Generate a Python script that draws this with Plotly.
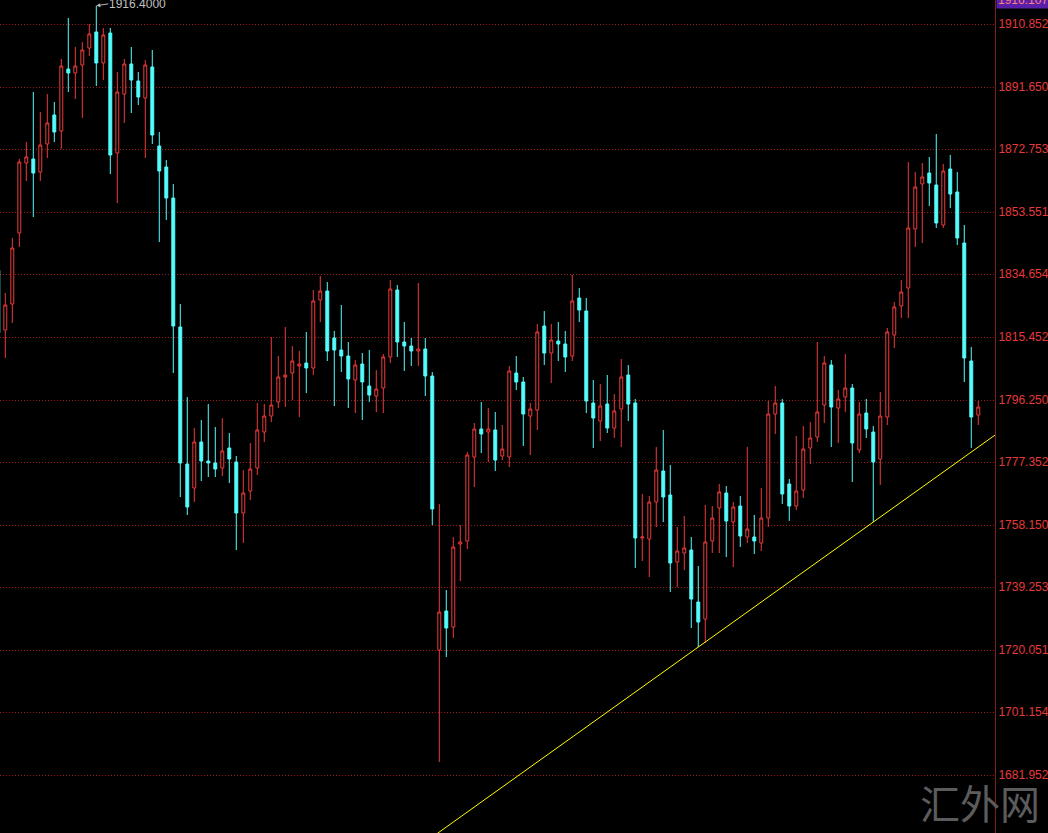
import plotly.graph_objects as go

# ---- data ----
idx = list(range(-1, 140))

opens = [1835.87, 1817.59, 1825.51, 1847.15, 1868.49, 1869.71, 1865.74, 1874.28, 1883.12, 1878.24,
         1897.14, 1895.92, 1898.36, 1903.54, 1908.42, 1898.97, 1908.11, 1871.54, 1889.52, 1898.66,
         1893.48, 1888.30, 1897.75, 1873.67, 1867.27, 1857.82, 1818.50, 1776.74, 1769.43, 1783.45,
         1777.66, 1777.05, 1775.52, 1781.62, 1777.35, 1761.81, 1768.51, 1775.52, 1786.50, 1791.37,
         1795.64, 1803.26, 1804.48, 1806.61, 1807.53, 1806.00, 1826.73, 1829.47, 1815.15, 1811.49,
         1809.66, 1802.35, 1807.22, 1800.52, 1797.47, 1799.91, 1809.36, 1829.78, 1813.93, 1812.71,
         1811.19, 1811.79, 1803.57, 1720.05, 1731.94, 1727.06, 1752.36, 1753.27, 1778.88, 1787.41,
         1786.50, 1787.11, 1779.18, 1778.88, 1804.48, 1801.74, 1791.37, 1793.20, 1818.81, 1810.58,
         1814.23, 1813.32, 1809.66, 1827.34, 1823.38, 1795.34, 1789.85, 1795.03, 1787.72, 1793.51,
         1803.87, 1795.34, 1754.19, 1753.88, 1765.16, 1774.61, 1767.29, 1746.87, 1749.62, 1750.53,
         1734.68, 1729.50, 1753.27, 1763.33, 1767.90, 1759.06, 1763.94, 1754.49, 1754.49, 1752.66,
         1760.28, 1791.98, 1795.34, 1770.65, 1763.94, 1768.82, 1781.62, 1784.97, 1794.73, 1806.92,
         1793.81, 1797.16, 1799.91, 1781.01, 1792.29, 1786.50, 1778.27, 1791.07, 1816.06, 1824.90,
         1830.39, 1848.37, 1862.09, 1865.44, 1861.78, 1849.59, 1866.66, 1859.65, 1844.10, 1808.14,
         1791.68]

highs = [1837.40, 1828.86, 1845.63, 1869.71, 1874.89, 1890.13, 1884.03, 1889.52, 1887.08, 1900.19,
         1912.68, 1903.84, 1905.37, 1910.85, 1916.40, 1909.64, 1909.64, 1896.22, 1900.19, 1903.84,
         1896.22, 1899.88, 1902.93, 1877.94, 1869.40, 1862.09, 1825.51, 1797.16, 1787.72, 1790.15,
         1795.03, 1788.02, 1790.76, 1786.19, 1779.18, 1774.91, 1783.14, 1795.34, 1795.03, 1815.45,
         1809.66, 1818.50, 1812.71, 1811.19, 1816.98, 1829.78, 1834.05, 1832.22, 1817.28, 1825.21,
         1813.93, 1808.44, 1810.58, 1811.49, 1805.39, 1810.27, 1832.83, 1831.30, 1820.02, 1815.15,
         1831.91, 1815.15, 1804.78, 1764.55, 1738.34, 1754.49, 1758.15, 1780.40, 1789.24, 1795.64,
         1793.81, 1792.59, 1788.63, 1806.61, 1809.66, 1803.26, 1795.34, 1819.41, 1823.38, 1819.41,
         1820.02, 1817.28, 1834.35, 1830.39, 1827.34, 1802.35, 1801.13, 1803.87, 1798.08, 1808.75,
         1806.92, 1796.55, 1767.60, 1766.99, 1781.92, 1787.11, 1776.44, 1757.54, 1760.89, 1754.49,
         1745.65, 1764.25, 1763.94, 1770.65, 1770.04, 1765.16, 1766.99, 1781.92, 1761.20, 1769.43,
         1795.95, 1800.52, 1796.55, 1772.17, 1785.28, 1788.33, 1789.54, 1813.93, 1809.66, 1808.44,
         1799.30, 1810.27, 1801.13, 1795.64, 1796.55, 1788.33, 1798.69, 1818.20, 1826.12, 1832.83,
         1868.79, 1865.74, 1868.49, 1870.32, 1877.33, 1868.18, 1870.93, 1865.74, 1849.59, 1812.40,
         1795.95]

lows = [1814.54, 1809.05, 1819.72, 1842.88, 1863.00, 1852.03, 1863.00, 1870.01, 1874.89, 1872.75,
        1890.13, 1887.99, 1882.20, 1901.10, 1891.96, 1893.79, 1865.13, 1856.30, 1880.68, 1883.73,
        1886.17, 1870.01, 1874.28, 1844.41, 1851.11, 1804.48, 1766.68, 1761.20, 1765.16, 1771.56,
        1772.78, 1772.78, 1773.09, 1770.95, 1750.53, 1752.66, 1765.77, 1773.39, 1783.45, 1789.54,
        1793.81, 1794.12, 1796.25, 1791.07, 1798.38, 1803.87, 1820.02, 1808.14, 1794.42, 1804.78,
        1793.81, 1792.29, 1790.15, 1795.64, 1792.59, 1792.29, 1807.53, 1809.36, 1805.09, 1806.61,
        1806.61, 1797.47, 1758.15, 1685.91, 1717.92, 1723.71, 1741.08, 1750.83, 1769.73, 1780.10,
        1777.35, 1774.61, 1777.96, 1775.83, 1799.30, 1782.23, 1779.49, 1787.11, 1806.92, 1801.43,
        1808.14, 1804.78, 1808.14, 1820.02, 1792.29, 1781.62, 1783.75, 1786.19, 1784.67, 1781.92,
        1789.85, 1745.04, 1747.18, 1742.30, 1757.54, 1759.06, 1737.73, 1739.25, 1744.43, 1726.76,
        1720.96, 1722.20, 1749.62, 1749.62, 1748.40, 1745.35, 1751.44, 1752.66, 1749.31, 1750.23,
        1757.54, 1785.89, 1764.55, 1759.37, 1762.72, 1766.38, 1776.74, 1783.45, 1789.24, 1781.92,
        1783.14, 1792.59, 1771.26, 1780.10, 1784.67, 1759.06, 1770.34, 1788.63, 1812.10, 1821.24,
        1821.24, 1842.88, 1844.10, 1855.38, 1848.68, 1848.68, 1854.77, 1843.49, 1801.74, 1781.62,
        1788.63]

closes = [1816.67, 1825.21, 1842.58, 1868.79, 1870.32, 1865.44, 1873.97, 1880.68, 1877.94, 1898.05,
          1895.92, 1898.05, 1902.93, 1907.81, 1898.97, 1907.50, 1870.93, 1890.13, 1898.66, 1893.79,
          1888.60, 1898.36, 1877.02, 1866.05, 1857.82, 1818.81, 1777.05, 1763.64, 1783.45, 1777.66,
          1777.05, 1775.22, 1780.71, 1778.27, 1761.81, 1767.90, 1775.22, 1787.11, 1791.37, 1794.73,
          1803.26, 1803.87, 1808.14, 1807.22, 1806.00, 1826.43, 1829.47, 1811.19, 1811.49, 1809.66,
          1802.65, 1806.92, 1801.74, 1797.77, 1799.60, 1809.36, 1830.08, 1813.93, 1812.71, 1811.19,
          1811.79, 1803.57, 1763.03, 1731.63, 1726.76, 1751.44, 1752.97, 1779.49, 1787.41, 1785.89,
          1787.41, 1777.96, 1781.31, 1805.09, 1801.74, 1791.98, 1793.51, 1816.98, 1810.58, 1814.54,
          1813.32, 1809.36, 1826.43, 1823.68, 1795.95, 1790.76, 1794.42, 1787.72, 1792.90, 1803.26,
          1795.03, 1754.19, 1754.49, 1765.16, 1774.91, 1766.68, 1746.57, 1750.23, 1751.14, 1735.59,
          1728.58, 1752.97, 1760.28, 1768.21, 1759.37, 1763.64, 1754.80, 1756.93, 1753.27, 1760.28,
          1791.98, 1795.34, 1767.60, 1763.94, 1768.51, 1781.31, 1784.67, 1792.59, 1807.53, 1794.12,
          1796.55, 1799.91, 1783.14, 1791.98, 1787.41, 1777.35, 1791.37, 1816.98, 1824.60, 1829.17,
          1848.68, 1861.17, 1864.22, 1862.39, 1850.20, 1866.05, 1859.04, 1845.63, 1809.05, 1791.07,
          1794.12]

tick_vals = [1910.852, 1891.650, 1872.753, 1853.551, 1834.654, 1815.452, 1796.250,
             1777.352, 1758.150, 1739.253, 1720.051, 1701.154, 1681.952]
tick_text = ["1910.852", "1891.650", "1872.753", "1853.551", "1834.654", "1815.452", "1796.250",
             "1777.352", "1758.150", "1739.253", "1720.051", "1701.154", "1681.952"]

peak_label = "1916.4000"
peak_index = 13
top_label = "1916.107"
trend_anchor_idx = [99, 124]   # trendline drawn through the lows of these candles
watermark = "汇外网"

# ---- figure ----
RED = "#ec3b3b"
CYAN = "#54fcfc"

fig = go.Figure()
fig.add_trace(go.Candlestick(
    x=idx, open=opens, high=highs, low=lows, close=closes,
    increasing=dict(line=dict(color=RED, width=1), fillcolor="#000000"),
    decreasing=dict(line=dict(color=CYAN, width=1), fillcolor=CYAN),
    whiskerwidth=0, hoverinfo="skip", showlegend=False,
))

x_range = [-0.757, 141.39]
y_range = [1664.28, 1918.17]

# trendline through two lows, extended across the plot
i0, i1 = trend_anchor_idx
p0 = lows[idx.index(i0)]
p1 = lows[idx.index(i1)]
slope = (p1 - p0) / (i1 - i0)
tx = [x_range[0], x_range[1]]
ty = [p0 + slope * (v - i0) for v in tx]
fig.add_trace(go.Scatter(x=tx, y=ty, mode="lines",
                         line=dict(color="#ffff00", width=1),
                         hoverinfo="skip", showlegend=False))

fig.update_layout(
    width=1048, height=833,
    margin=dict(l=0, r=53, t=0, b=0, autoexpand=False),
    paper_bgcolor="#000000", plot_bgcolor="#000000",
    boxgap=0.4,
    showlegend=False,
    xaxis=dict(range=x_range, visible=False, showgrid=False, zeroline=False,
               rangeslider=dict(visible=False), fixedrange=True, automargin=False),
    yaxis=dict(range=y_range, side="right", tickvals=tick_vals, ticktext=tick_text,
               tickfont=dict(color="#e63a3a", size=12, family="Arial, Liberation Sans"),
               showgrid=True, gridcolor="#a01818", griddash="1px,2px", gridwidth=1,
               showline=True, linecolor="#7a2020", linewidth=1, automargin=False,
               zeroline=False, ticks="", ticklabelstandoff=0, fixedrange=True),
    font=dict(family="Arial, Liberation Sans"),
)

# peak label with arrow
fig.add_annotation(x=peak_index, y=highs[idx.index(peak_index)], text=peak_label,
                   showarrow=True, arrowhead=2, arrowsize=0.8, arrowwidth=1,
                   arrowcolor="#b8b8b8", ax=12, ay=-2, xanchor="left", yanchor="middle",
                   font=dict(color="#c0c0c0", size=12, family="Arial, Liberation Sans"),
                   standoff=0, borderpad=0)

# purple top-right price box
fig.add_annotation(xref="paper", yref="paper", x=1.0, y=1.0, xshift=1,
                   xanchor="left", yanchor="middle", text=top_label, showarrow=False,
                   bgcolor="#5a1fa8", width=52, align="left",
                   font=dict(color="#ff8080", size=12, family="Arial, Liberation Sans"))

# watermark
fig.add_annotation(xref="paper", yref="paper", x=0.985, y=0.037, text=watermark,
                   showarrow=False, xanchor="center", yanchor="middle",
                   font=dict(color="#5c5c5c", size=40, family="Noto Sans CJK SC"))

fig.write_html(
    "out.html",
    config={"displayModeBar": False},
    post_script="document.body.style.margin='0';document.body.style.overflow='hidden';"
                "document.documentElement.style.overflow='hidden';",
)
